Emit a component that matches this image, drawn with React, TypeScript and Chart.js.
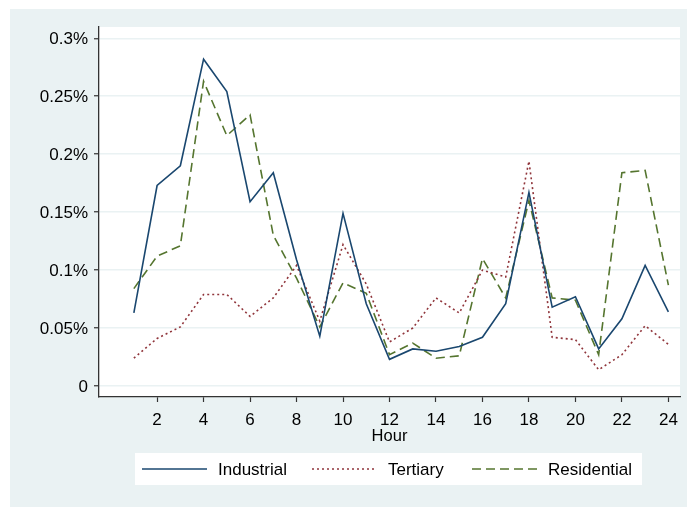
import React, { useEffect, useRef } from "react";
import { Chart, registerables } from "chart.js";

Chart.register(...registerables);

const hours = [1, 2, 3, 4, 5, 6, 7, 8, 9, 10, 11, 12, 13, 14, 15, 16, 17, 18, 19, 20, 21, 22, 23, 24];
const industrial = [0.063, 0.173, 0.19, 0.282, 0.254, 0.159, 0.184, 0.109, 0.043, 0.149, 0.071, 0.023, 0.032, 0.03, 0.034, 0.042, 0.071, 0.167, 0.068, 0.077, 0.032, 0.058, 0.104, 0.064];
const tertiary = [0.024, 0.041, 0.051, 0.079, 0.079, 0.06, 0.076, 0.104, 0.056, 0.122, 0.088, 0.038, 0.05, 0.076, 0.063, 0.1, 0.094, 0.194, 0.042, 0.04, 0.014, 0.027, 0.052, 0.036];
const residential = [0.084, 0.112, 0.121, 0.263, 0.216, 0.234, 0.13, 0.093, 0.051, 0.089, 0.08, 0.027, 0.037, 0.024, 0.026, 0.11, 0.076, 0.16, 0.076, 0.074, 0.027, 0.184, 0.186, 0.087];
const seriesLabels = ["Industrial", "Tertiary", "Residential"];
const yTickValues = [0, 0.05, 0.1, 0.15, 0.2, 0.25, 0.3];
const xTickValues = [2, 4, 6, 8, 10, 12, 14, 16, 18, 20, 22, 24];
const xTitle = "Hour";

const COLORS = ["#1a476f", "#90353b", "#55752f"];
const DASHES: number[][] = [[], [2, 3], [9, 5]];
const BG = "#eaf2f3";
const AXIS = "#333333";
const FONT = "'Liberation Sans', Arial, Helvetica, sans-serif";

const bgPlugin = {
  id: "stataBg",
  beforeDraw(chart: any) {
    const { ctx, chartArea } = chart;
    ctx.save();
    ctx.fillStyle = "#ffffff";
    ctx.fillRect(0, 0, chart.width, chart.height);
    ctx.fillStyle = BG;
    ctx.fillRect(10, 9, chart.width - 10, chart.height - 9);
    ctx.fillStyle = "#ffffff";
    ctx.fillRect(chartArea.left, chartArea.top, chartArea.right - chartArea.left, chartArea.bottom - chartArea.top);
    ctx.restore();
  },
};

const legendPlugin = {
  id: "stataLegend",
  afterDraw(chart: any) {
    const { ctx } = chart;
    ctx.save();
    ctx.fillStyle = "#ffffff";
    ctx.fillRect(135, 453, 507, 32);
    const lineStarts = [142, 312, 472];
    const y = 469;
    chart.data.datasets.forEach((ds: any, i: number) => {
      ctx.beginPath();
      ctx.strokeStyle = ds.borderColor;
      ctx.lineWidth = ds.borderWidth;
      ctx.setLineDash(ds.borderDash || []);
      ctx.moveTo(lineStarts[i], y);
      ctx.lineTo(lineStarts[i] + 65, y);
      ctx.stroke();
      ctx.setLineDash([]);
      ctx.fillStyle = "#000000";
      ctx.font = `17px ${FONT}`;
      ctx.textBaseline = "middle";
      ctx.textAlign = "left";
      ctx.fillText(ds.label, lineStarts[i] + 76, y + 1);
    });
    ctx.restore();
  },
};

export default function App() {
  const ref = useRef<HTMLCanvasElement | null>(null);

  useEffect(() => {
    if (!ref.current) return;
    const series = [industrial, tertiary, residential];
    const chart = new Chart(ref.current, {
      type: "line",
      data: {
        datasets: series.map((vals, i) => ({
          label: seriesLabels[i],
          data: hours.map((h, j) => ({ x: h, y: vals[j] })),
          borderColor: COLORS[i],
          backgroundColor: COLORS[i],
          borderWidth: 1.6,
          borderDash: DASHES[i],
          pointRadius: 0,
          tension: 0,
          fill: false,
        })),
      },
      options: {
        responsive: false,
        animation: false,
        devicePixelRatio: 1,
        layout: { padding: { left: 0, top: 27, right: 7, bottom: 60 } },
        plugins: { legend: { display: false }, tooltip: { enabled: false } },
        scales: {
          x: {
            type: "linear",
            min: -0.5,
            max: 24.5,
            afterFit(scale: any) {
              scale.height = 50;
            },
            afterBuildTicks(scale: any) {
              scale.ticks = xTickValues.map((v) => ({ value: v }));
            },
            grid: { drawOnChartArea: false, drawTicks: true, tickLength: 5, tickColor: AXIS, tickWidth: 1.2 },
            border: { display: true, color: AXIS, width: 1.3 },
            ticks: { color: "#000", font: { family: FONT, size: 17 }, padding: 8, maxRotation: 0, autoSkip: false },
            title: { display: true, text: xTitle, color: "#000", font: { family: FONT, size: 16.5 }, padding: { top: 0, bottom: 1 } },
          },
          y: {
            type: "linear",
            min: -0.0095,
            max: 0.30975,
            afterFit(scale: any) {
              scale.width = 99;
            },
            afterBuildTicks(scale: any) {
              scale.ticks = yTickValues.map((v) => ({ value: v }));
            },
            grid: { drawOnChartArea: true, color: BG, lineWidth: 1.5, drawTicks: true, tickLength: 5, tickColor: AXIS, tickWidth: 1.2 },
            border: { display: true, color: AXIS, width: 1.3 },
            ticks: {
              color: "#000",
              font: { family: FONT, size: 17 },
              padding: 6,
              labelOffset: 1.5,
              autoSkip: false,
              callback: (v: any) => (v === 0 ? "0" : `${v}%`),
            },
          },
        },
      },
      plugins: [bgPlugin, legendPlugin],
    });
    return () => chart.destroy();
  }, []);

  return (
    <div style={{ position: "fixed", left: 0, top: 0, width: 687, height: 507 }}>
      <canvas ref={ref} width={687} height={507} style={{ display: "block", width: 687, height: 507 }} />
    </div>
  );
}
